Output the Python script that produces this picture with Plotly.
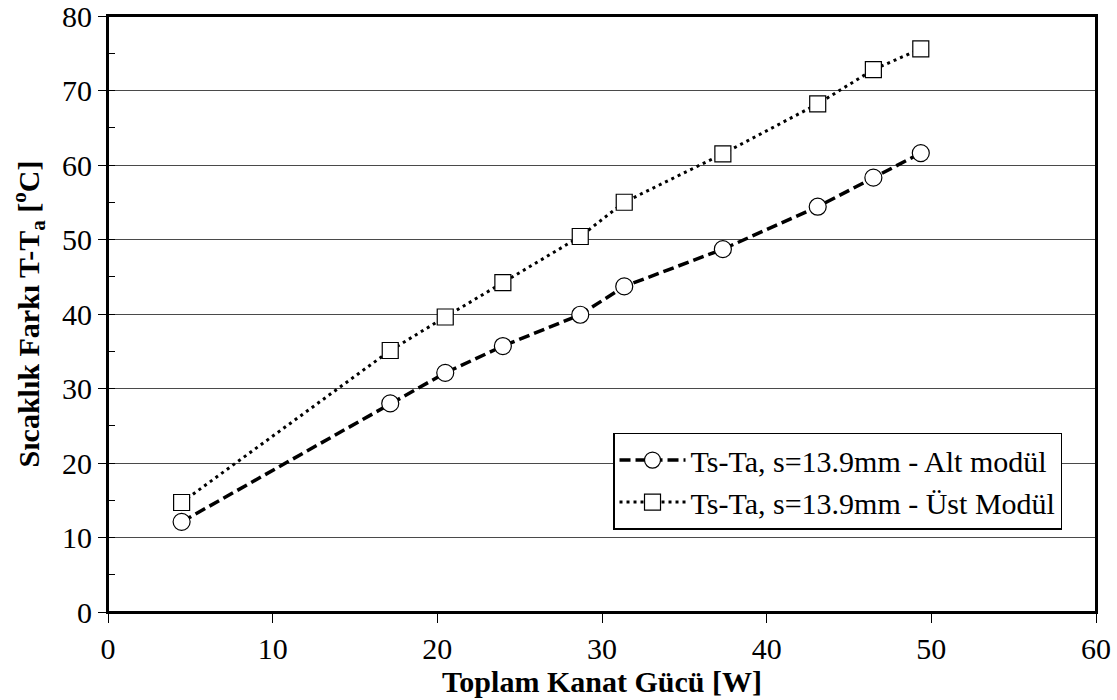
import plotly.graph_objects as go

# Toplam kanat gücü [W]
power_w = [4.47, 17.14, 20.48, 23.98, 28.68, 31.35, 37.34, 43.1, 46.48, 49.36]

# Sıcaklık farkı Ts-Ta [°C]
alt_modul = [12.1, 28.0, 32.1, 35.7, 39.9, 43.7, 48.7, 54.4, 58.3, 61.6]
ust_modul = [14.7, 35.1, 39.6, 44.2, 50.4, 55.0, 61.5, 68.2, 72.8, 75.6]

x_ticks = [0, 10, 20, 30, 40, 50, 60]
y_ticks = [0, 10, 20, 30, 40, 50, 60, 70, 80]

FONT = "Liberation Serif, Times New Roman, serif"
TICK_SIZE = 30
TITLE_SIZE = 30

fig = go.Figure()

fig.add_trace(go.Scatter(
    x=power_w, y=alt_modul,
    mode="lines+markers",
    name="Ts-Ta, s=13.9mm - Alt modül",
    line=dict(color="black", width=3.5, dash="11px,5px"),
    marker=dict(symbol="circle", size=17, color="white",
                line=dict(color="black", width=1.2)),
))

fig.add_trace(go.Scatter(
    x=power_w, y=ust_modul,
    mode="lines+markers",
    name="Ts-Ta, s=13.9mm - Üst Modül",
    line=dict(color="black", width=3, dash="3px,4px"),
    marker=dict(symbol="square", size=16, color="white",
                line=dict(color="black", width=1.2)),
))

fig.update_layout(
    width=1117, height=700,
    margin=dict(l=108, r=21, t=16, b=88, autoexpand=False),
    paper_bgcolor="white",
    plot_bgcolor="white",
    font=dict(family=FONT, size=TICK_SIZE, color="black"),
    showlegend=True,
    legend=dict(
        x=0.9656, y=0.301, xanchor="right", yanchor="top",
        bgcolor="white", bordercolor="black", borderwidth=1.5,
        font=dict(family=FONT, size=30, color="black"),
        itemwidth=66,
        tracegroupgap=0,
    ),
    # frame around the plotting area
    shapes=[dict(type="rect", xref="paper", yref="paper",
                 x0=0, x1=1, y0=0, y1=1,
                 line=dict(color="black", width=2), layer="above")],
)

fig.update_xaxes(
    range=[0, 60],
    tickvals=x_ticks,
    ticktext=[str(v) for v in x_ticks],
    ticks="outside", ticklen=9, tickwidth=1.2, tickcolor="black",
    showgrid=False, zeroline=False, automargin=False,
    ticklabeloverflow="allow",
    showline=True, linecolor="black", linewidth=2, mirror=True,
    tickfont=dict(family=FONT, size=TICK_SIZE),
    title=dict(text="<b>Toplam Kanat Gücü [W]</b>",
               font=dict(family=FONT, size=TITLE_SIZE), standoff=4),
)

fig.update_yaxes(
    range=[0, 80],
    tickvals=y_ticks,
    ticktext=[str(v) for v in y_ticks],
    ticks="outside", ticklen=8, tickwidth=1.2, tickcolor="black",
    showgrid=True, gridcolor="#4a4a4a", gridwidth=1.2,
    zeroline=False, automargin=False,
    ticklabeloverflow="allow",
    showline=True, linecolor="black", linewidth=2, mirror=True,
    minor=dict(dtick=5, tick0=0, ticks="inside", ticklen=7,
               tickcolor="black", tickwidth=1.2, showgrid=False),
    tickfont=dict(family=FONT, size=TICK_SIZE),
    title=dict(text="<b>Sıcaklık Farkı T-T<sub>a</sub> [<sup>o</sup>C]</b>",
               font=dict(family=FONT, size=TITLE_SIZE), standoff=14),
)

fig.write_html("out.html")
